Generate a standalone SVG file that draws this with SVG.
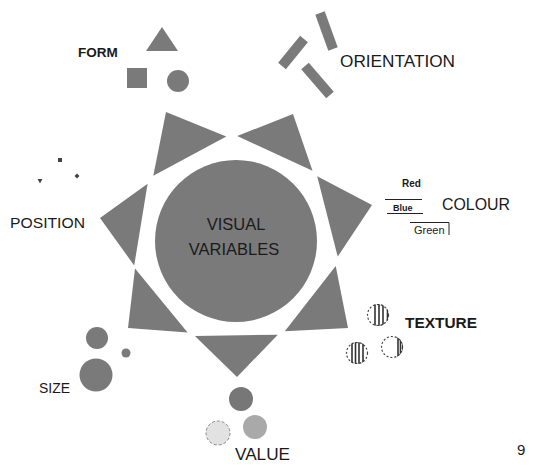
<svg xmlns="http://www.w3.org/2000/svg" width="541" height="473" viewBox="0 0 541 473">
<style>
.g{fill:#7a7a7a}
.lbl{font-family:"Liberation Sans",Arial,sans-serif;fill:#1a1a1a}
.bar{stroke:#7a7a7a;stroke-width:10;stroke-linecap:butt}
.thin{stroke:#222;stroke-width:1;fill:none}
.tex{fill:none;stroke:#444;stroke-width:1.2;stroke-dasharray:2 2}
.stripe{stroke:#333;stroke-width:1.6}
</style>
<defs>
<clipPath id="c1"><circle cx="378" cy="315" r="11"/></clipPath>
<clipPath id="c2"><circle cx="357" cy="353" r="11"/></clipPath>
<clipPath id="c3"><circle cx="392" cy="347" r="11"/></clipPath>
</defs>
<rect width="541" height="473" fill="#fff"/>

<g id="star">
<polygon class="g" points="237,377 277.8,334.8 194.9,335.9"/>
<polygon class="g" points="348,328 335.7,265.9 284.8,331.3"/>
<polygon class="g" points="372,205 317.2,176.3 337.7,256.6"/>
<polygon class="g" points="293,114 237.2,136 312.5,170.7"/>
<polygon class="g" points="166,112 153.3,175.7 226.3,136.4"/>
<polygon class="g" points="100,218 134.2,265.5 147.6,183.7"/>
<polygon class="g" points="128,328 187.6,332.6 135,268.5"/>
</g>

<g id="center">
<circle class="g" cx="236" cy="241" r="81"/>
<text class="lbl" x="236" y="230" font-size="16.5" text-anchor="middle">VISUAL</text>
<text class="lbl" x="234" y="255" font-size="16.5" text-anchor="middle">VARIABLES</text>
</g>

<g id="form">
<text class="lbl" x="78" y="57" font-size="13.5" font-weight="bold">FORM</text>
<polygon class="g" points="162,27 146,51 178,51"/>
<rect class="g" x="127" y="68" width="20" height="20"/>
<circle class="g" cx="178" cy="81" r="11"/>
</g>

<g id="orientation">
<text class="lbl" x="340" y="67" font-size="16.5" textLength="115" lengthAdjust="spacingAndGlyphs">ORIENTATION</text>
<line class="bar" x1="320" y1="13" x2="333" y2="49"/>
<line class="bar" x1="304" y1="39" x2="282" y2="66"/>
<line class="bar" x1="305" y1="66" x2="330" y2="95"/>
</g>

<g id="colour">
<text class="lbl" x="442" y="210" font-size="16" textLength="68" lengthAdjust="spacingAndGlyphs">COLOUR</text>
<text class="lbl" x="402" y="187" font-size="10" font-weight="bold">Red</text>
<line class="thin" x1="385" y1="199.5" x2="422" y2="199.5"/>
<text class="lbl" x="393" y="211" font-size="9" font-weight="bold">Blue</text>
<line class="thin" x1="387" y1="213.5" x2="423" y2="213.5"/>
<polyline class="thin" points="410,222.5 449,222.5 449,235"/>
<text class="lbl" x="414" y="234" font-size="11">Green</text>
</g>

<g id="texture">
<text class="lbl" x="405" y="328" font-size="15" font-weight="bold" textLength="72" lengthAdjust="spacingAndGlyphs">TEXTURE</text>
<circle class="tex" cx="378" cy="315" r="10.5"/>
<g clip-path="url(#c1)">
<line class="stripe" x1="375" y1="300" x2="375" y2="330"/>
<line class="stripe" x1="379" y1="300" x2="379" y2="330"/>
<line class="stripe" x1="383" y1="300" x2="383" y2="330"/>
<line class="stripe" x1="387.5" y1="300" x2="387.5" y2="330"/>
</g>
<circle class="tex" cx="357" cy="353" r="10.5"/>
<g clip-path="url(#c2)">
<line class="stripe" x1="352" y1="338" x2="352" y2="368"/>
<line class="stripe" x1="355.5" y1="338" x2="355.5" y2="368"/>
<line class="stripe" x1="359" y1="338" x2="359" y2="368"/>
<line class="stripe" x1="363" y1="338" x2="363" y2="368"/>
</g>
<circle class="tex" cx="392" cy="347" r="10.5"/>
<g clip-path="url(#c3)">
<line class="stripe" x1="398" y1="332" x2="398" y2="362"/>
<line class="stripe" x1="400.5" y1="332" x2="400.5" y2="362"/>
<line class="stripe" x1="403" y1="332" x2="403" y2="362"/>
</g>
</g>

<g id="value">
<text class="lbl" x="235" y="460" font-size="16.5" textLength="55" lengthAdjust="spacingAndGlyphs">VALUE</text>
<circle cx="241" cy="399" r="12" fill="#777"/>
<circle cx="255" cy="427" r="12" fill="#a9a9a9"/>
<circle cx="218" cy="433" r="12" fill="#e2e2e2" stroke="#888" stroke-width="1" stroke-dasharray="3 2"/>
</g>

<g id="size">
<text class="lbl" x="39" y="393" font-size="14" textLength="31" lengthAdjust="spacingAndGlyphs">SIZE</text>
<circle class="g" cx="97" cy="338" r="11"/>
<circle class="g" cx="126" cy="353" r="4.5"/>
<circle class="g" cx="96" cy="375" r="16.5"/>
</g>

<g id="position">
<text class="lbl" x="10" y="228" font-size="15.5" textLength="75" lengthAdjust="spacingAndGlyphs">POSITION</text>
<rect x="58" y="158" width="4" height="4" fill="#444"/>
<polygon points="37.5,179 42.5,179 40,183.5" fill="#444"/>
<polygon points="77,173.5 79.5,176 77,178.5 74.5,176" fill="#444"/>
</g>

<g id="page">
<text class="lbl" x="517" y="455" font-size="15">9</text>
</g>
</svg>
